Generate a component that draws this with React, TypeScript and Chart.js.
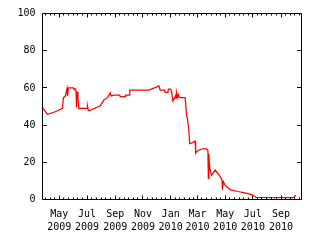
import { useEffect, useRef } from "react";
import { Chart, registerables } from "chart.js";

Chart.register(...registerables);

// Observation dates and values (percent)
const dates: string[] = [
  "2009-03-25", "2009-04-05", "2009-04-22", "2009-05-08", "2009-05-10", "2009-05-14",
  "2009-05-18", "2009-05-19", "2009-05-21", "2009-06-01", "2009-06-02", "2009-06-06",
  "2009-06-07", "2009-06-08", "2009-06-09", "2009-06-11", "2009-06-13", "2009-07-01",
  "2009-07-02", "2009-07-04", "2009-07-06", "2009-07-30", "2009-08-07", "2009-08-15",
  "2009-08-21", "2009-08-23", "2009-08-29", "2009-09-11", "2009-09-12", "2009-09-23",
  "2009-09-24", "2009-10-02", "2009-10-03", "2009-11-14", "2009-12-02", "2009-12-06",
  "2009-12-09", "2009-12-19", "2009-12-20", "2009-12-26", "2009-12-27", "2010-01-01",
  "2010-01-03", "2010-01-06", "2010-01-10", "2010-01-12", "2010-01-13", "2010-01-14",
  "2010-01-16", "2010-01-18", "2010-01-20", "2010-01-22", "2010-02-02", "2010-02-05",
  "2010-02-07", "2010-02-10", "2010-02-12", "2010-02-16", "2010-02-24", "2010-02-25",
  "2010-03-02", "2010-03-12", "2010-03-21", "2010-03-24", "2010-03-25", "2010-03-26",
  "2010-03-27", "2010-03-28", "2010-04-01", "2010-04-09", "2010-04-18", "2010-04-24",
  "2010-04-25", "2010-04-27", "2010-05-02", "2010-05-13", "2010-05-29", "2010-06-16",
  "2010-06-30", "2010-07-08", "2010-09-30", "2010-10-03",
];
const values: number[] = [
  49.5, 45.8, 47.2, 49, 54.8, 55.5,
  59.7, 55.7, 60, 60, 59.5, 59.5,
  57.5, 49.5, 58, 55, 49, 49,
  50.4, 48, 47.7, 50.4, 53.5, 54.8,
  57.4, 55.7, 56.2, 56.2, 55.3, 55.3,
  56.2, 56.2, 58.9, 58.9, 60.6, 61.2,
  58.9, 58.9, 57.6, 57.6, 59.4, 59.4,
  58.1, 53, 54.8, 56, 54.5, 57.4,
  55, 56.5, 55, 54.8, 54.8, 45.4,
  43.3, 37.4, 30, 30.3, 31.4, 25,
  26.4, 27.3, 27.3, 26.4, 11.3, 24.6,
  19.3, 17, 13.1, 15.8, 13.1, 10.5,
  5.2, 9.6, 7.3, 5.2, 4.3, 3.4,
  2.5, 1.1, 1.0, 2.5,
];

const xStart = "2009-03-25";
const xEnd = "2010-10-16";
const labelMonths: string[] = [
  "2009-05-01", "2009-07-01", "2009-09-01", "2009-11-01", "2010-01-01",
  "2010-03-01", "2010-05-01", "2010-07-01", "2010-09-01",
];
const monthNames: string[] = ["Jan", "Feb", "Mar", "Apr", "May", "Jun", "Jul", "Aug", "Sep", "Oct", "Nov", "Dec"];
const yTickValues: number[] = [0, 20, 40, 60, 80, 100];
const minorDays: number[] = [1, 11, 21];

function dayNum(s: string): number {
  const [y, m, d] = s.split("-").map(Number);
  return Date.UTC(y, m - 1, d) / 86400000;
}
function dayLabel(v: number): string[] {
  const dt = new Date(v * 86400000);
  return [monthNames[dt.getUTCMonth()], String(dt.getUTCFullYear())];
}

const FONT = { family: "'DejaVu Sans Mono', monospace", size: 10, lineHeight: 1.33 };

const frameTicks = {
  id: "frameTicks",
  afterDatasetsDraw(chart: any) {
    const { ctx, chartArea: a, scales } = chart;
    const x = scales.x;
    const y = scales.y;
    const L = Math.floor(a.left) + 0.5;
    const R = Math.floor(a.right) + 0.5;
    const T = Math.floor(a.top) + 0.5;
    const B = Math.floor(a.bottom) + 0.5;
    ctx.save();
    ctx.strokeStyle = "#000";
    ctx.lineWidth = 1;
    ctx.beginPath();
    ctx.rect(L, T, R - L, B - T);
    const start = new Date(dayNum(xStart) * 86400000);
    const end = dayNum(xEnd);
    const majorSet = new Set(labelMonths.map(dayNum));
    let yy = start.getUTCFullYear();
    let mm = start.getUTCMonth();
    for (let i = 0; i < 30; i++) {
      for (const d of minorDays) {
        const v = Date.UTC(yy, mm, d) / 86400000;
        if (v < dayNum(xStart) || v > end) continue;
        const px = Math.floor(x.getPixelForValue(v)) + 0.5;
        const len = majorSet.has(v) ? 4 : 2;
        ctx.moveTo(px, B);
        ctx.lineTo(px, B - len);
        ctx.moveTo(px, T);
        ctx.lineTo(px, T + len);
      }
      mm++;
      if (mm > 11) { mm = 0; yy++; }
    }
    for (const v of yTickValues) {
      const py = Math.floor(y.getPixelForValue(v)) + 0.5;
      ctx.moveTo(L, py);
      ctx.lineTo(L + 4.5, py);
      ctx.moveTo(R, py);
      ctx.lineTo(R - 4.5, py);
    }
    ctx.stroke();
    ctx.restore();
  },
};

export default function App() {
  const ref = useRef<HTMLCanvasElement | null>(null);
  useEffect(() => {
    document.body.style.margin = "0";
    if (!ref.current) return;
    const pts = dates.map((d, i) => ({ x: dayNum(d), y: values[i] }));
    const chart = new Chart(ref.current, {
      type: "line",
      data: {
        datasets: [
          {
            data: pts,
            borderColor: "#ff0000",
            borderWidth: 1.25,
            pointRadius: 0,
            tension: 0,
            fill: false,
          },
        ],
      },
      options: {
        animation: false,
        responsive: false,
        events: [],
        layout: { padding: { left: 0, right: 18.5, top: 12.5, bottom: 0 } },
        plugins: { legend: { display: false }, tooltip: { enabled: false } },
        scales: {
          x: {
            type: "linear",
            min: dayNum(xStart),
            max: dayNum(xEnd),
            grid: { display: false, drawTicks: false },
            border: { display: false },
            afterBuildTicks: (s: any) => {
              s.ticks = labelMonths.map((m) => ({ value: dayNum(m) }));
            },
            afterFit: (s: any) => {
              s.height = 40.5;
            },
            ticks: {
              autoSkip: false,
              maxRotation: 0,
              minRotation: 0,
              padding: 8,
              color: "#000",
              font: FONT,
              callback: (v: any) => dayLabel(Number(v)),
            },
          },
          y: {
            min: 0,
            max: 100,
            grid: { display: false, drawTicks: false },
            border: { display: false },
            afterBuildTicks: (s: any) => {
              s.ticks = yTickValues.map((v) => ({ value: v }));
            },
            afterFit: (s: any) => {
              s.width = 42.5;
            },
            ticks: {
              padding: 7,
              color: "#000",
              font: FONT,
            },
          },
        },
      },
      plugins: [frameTicks],
    });
    return () => chart.destroy();
  }, []);
  return (
    <div style={{ width: 320, height: 240, background: "#fff" }}>
      <canvas ref={ref} width={320} height={240} />
    </div>
  );
}
